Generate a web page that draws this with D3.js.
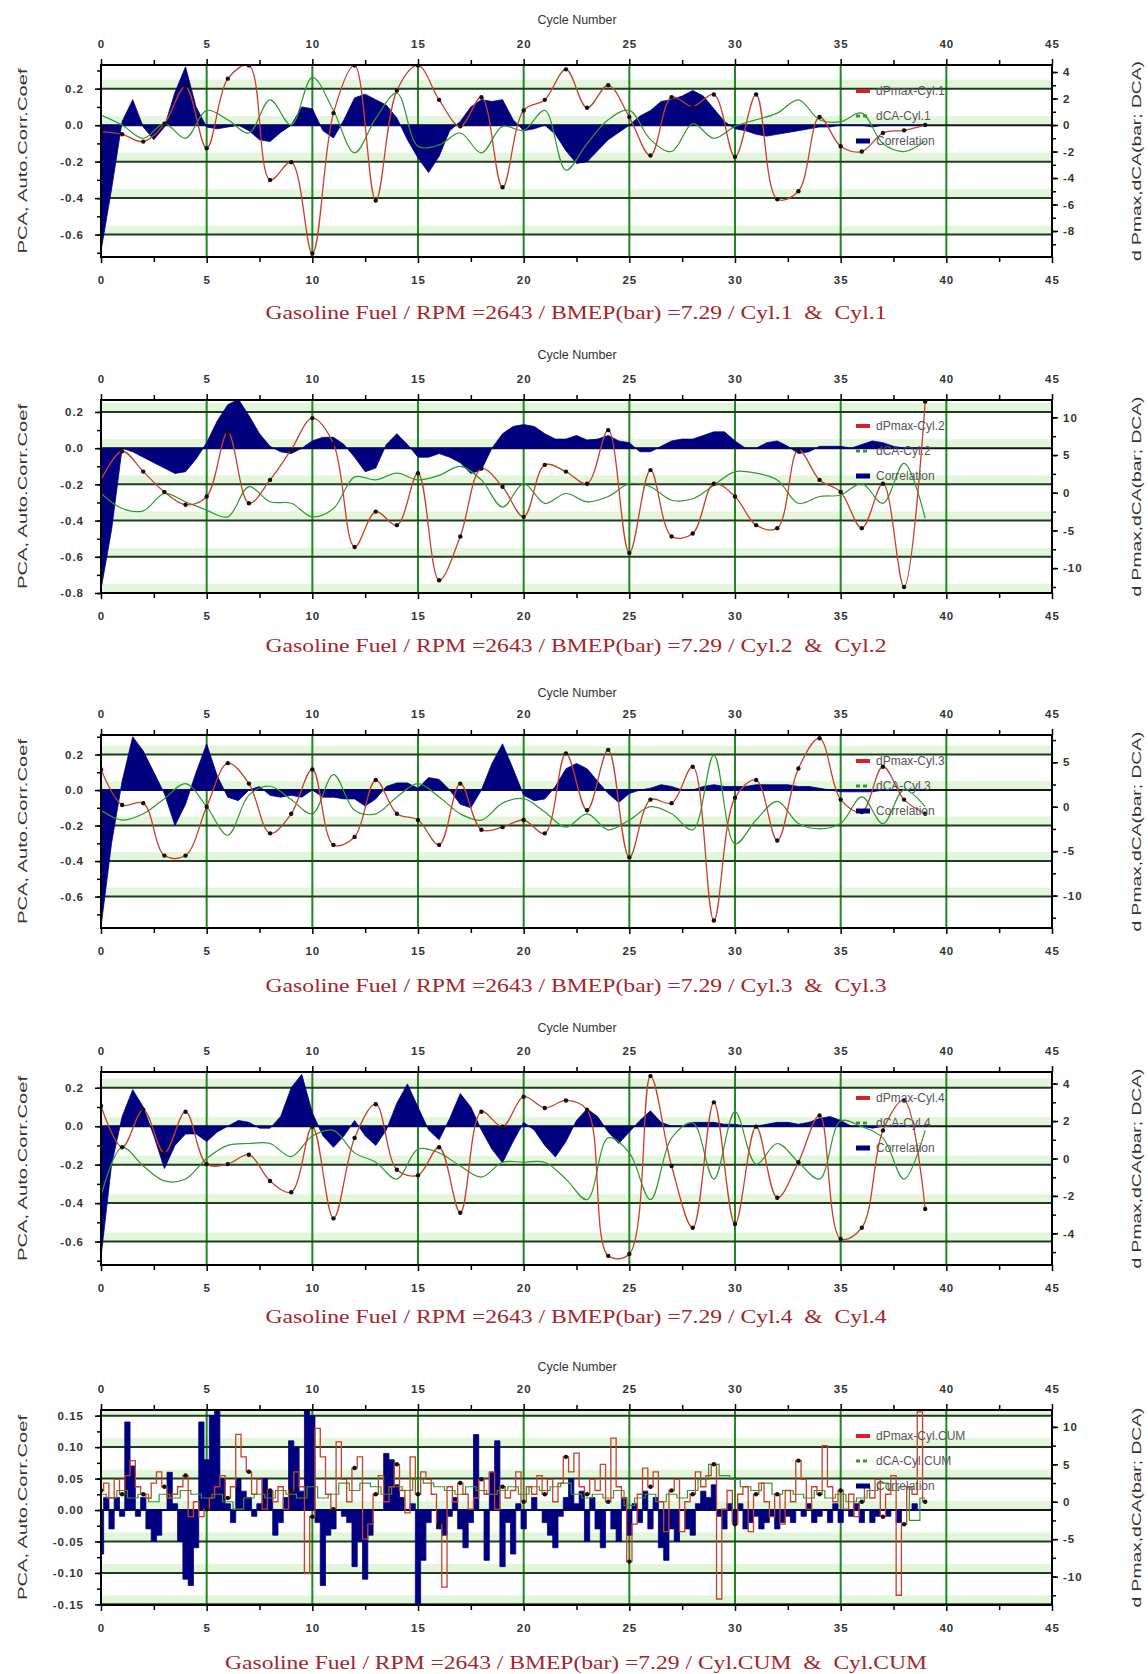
<!DOCTYPE html>
<html><head><meta charset="utf-8">
<script src="https://cdn.jsdelivr.net/npm/d3@7"></script>
<style>body{margin:0;background:#fff;} svg{display:block;}</style>
</head><body><svg id="c" width="1148" height="1674"></svg>
<script>
// ---------- tick labels ----------
const xMajorTicks = [0,5,10,15,20,25,30,35,40,45];
const xMinorTicks = [2.5,7.5,12.5,17.5,22.5,27.5,32.5,37.5,42.5];
const xGridLines = [5,10,15,20,25,30,35,40];

const p1LeftTicks = [0.2,0.0,-0.2,-0.4,-0.6];
const p1RightTicks = [4,2,0,-2,-4,-6,-8];
const p2LeftTicks = [0.2,0.0,-0.2,-0.4,-0.6,-0.8];
const p2RightTicks = [10,5,0,-5,-10];
const p3LeftTicks = [0.2,0.0,-0.2,-0.4,-0.6];
const p3RightTicks = [5,0,-5,-10];
const p4LeftTicks = [0.2,0.0,-0.2,-0.4,-0.6];
const p4RightTicks = [4,2,0,-2,-4];
const p5LeftTicks = [0.15,0.10,0.05,0.00,-0.05,-0.10,-0.15];
const p5RightTicks = [10,5,0,-5,-10];

// ---------- series (cycles 0..39) ----------
const p1Pmax = [-0.5,-0.7,-1.25,0.1,2.9,-1.75,3.5,4.5,-4.15,-2.8,-9.7,0.9,4.5,-5.7,2.6,4.5,1.9,-0.1,2.1,-4.7,1.1,1.9,4.2,1.3,3.0,0.6,-2.3,2.1,1.4,2.3,-2.4,2.3,-5.6,-5.0,0.6,-1.6,-2.0,-0.6,-0.4,0.0];
const p1dCA = [0.75,0.0,-1.0,0.1,-1.0,1.1,0.4,-0.6,1.9,0.0,3.6,1.1,-2.1,0.5,2.4,-1.6,-1.5,-0.6,-2.1,-0.1,-0.4,1.1,-3.4,-1.4,0.4,1.1,-1.1,-2.0,0.1,-1.0,-0.1,0.4,0.9,1.9,0.4,0.25,0.9,-1.4,-2.0,-1.2];
// correlation sampled every half cycle (0, 0.5, ... 39)
const p1Corr = [-0.69,-0.35,0.02,0.14,-0.01,-0.08,-0.01,0.18,0.32,0.10,-0.01,-0.02,-0.01,0.0,-0.03,-0.08,-0.09,-0.04,0.0,0.10,0.09,-0.03,-0.07,0.03,0.15,0.17,0.14,0.11,0.04,-0.08,-0.18,-0.26,-0.17,-0.03,0.02,0.10,0.14,0.13,0.14,0.03,-0.03,-0.02,0.0,-0.05,-0.14,-0.21,-0.20,-0.14,-0.08,-0.04,0.0,0.05,0.08,0.13,0.14,0.16,0.19,0.16,0.09,0.02,-0.02,-0.03,-0.05,-0.06,-0.05,-0.04,-0.03,-0.02,-0.01,-0.01,0.0,0.0,0.0,-0.01,0.0,0.0,0.0,0.0,0.0];

const p2Pmax = [1.7,5.5,2.8,0.1,-1.6,-0.5,8.0,-1.4,1.7,5.7,9.9,6.5,-7.2,-2.5,-4.3,2.6,-11.6,-5.8,3.2,0.8,-3.2,3.7,2.8,1.2,8.3,-8.0,3.0,-5.8,-5.4,1.2,-0.5,-4.3,-4.7,5.7,1.7,0.1,-4.7,1.2,-12.5,12.1];
const p2dCA = [-0.1,-2.1,-2.4,-0.1,-1.2,-2.3,-3.2,0.8,-1.2,-1.4,-3.2,-2.1,2.1,1.7,2.6,1.7,2.3,3.5,1.7,-1.9,1.2,-1.4,-0.1,-1.2,-0.5,1.2,0.8,-1.0,-0.8,1.0,2.8,2.6,1.7,-1.4,-0.5,-0.3,1.2,-1.4,3.9,-3.4];
const p2Corr = [-0.78,-0.45,0.0,-0.02,-0.05,-0.08,-0.11,-0.14,-0.13,-0.06,0.03,0.15,0.24,0.27,0.18,0.08,0.01,-0.02,-0.03,0.0,0.04,0.06,0.06,0.02,-0.05,-0.13,-0.11,0.02,0.08,0.02,-0.05,-0.05,-0.03,-0.05,-0.08,-0.14,-0.12,0.0,0.08,0.12,0.13,0.12,0.08,0.05,0.05,0.07,0.045,0.05,0.07,0.04,0.03,-0.02,-0.02,0.01,0.04,0.05,0.05,0.07,0.09,0.09,0.04,0.0,0.0,0.03,0.04,0.01,-0.03,-0.02,0.01,0.01,0.01,0.0,0.02,0.04,0.03,0.01,0.0,0.0,0.0];

const p3Pmax = [4.2,0.2,0.4,-5.5,-5.5,0.0,4.9,2.6,-3.0,-0.8,4.2,-4.3,-3.4,3.0,-0.8,-1.5,-4.3,2.6,-2.6,-2.3,-1.5,-3.0,6.0,-0.4,6.4,-5.7,0.8,0.4,4.5,-12.8,1.0,3.0,-3.8,4.3,7.7,0.8,-0.6,4.5,0.8,-0.8];
const p3dCA = [-0.4,-1.5,-0.8,0.9,2.6,0.0,-3.2,1.3,2.3,0.8,-0.8,3.6,-0.4,-0.8,1.1,2.6,1.1,-0.8,-1.5,0.4,0.9,-0.6,-2.3,-0.8,-2.6,-1.5,0.0,-0.8,-2.6,5.8,-4.2,-1.5,0.6,-1.9,-2.5,-1.9,1.1,-1.9,1.9,0.0];
const p3Corr = [-0.77,-0.3,0.05,0.30,0.22,0.10,-0.02,-0.20,-0.08,0.10,0.26,0.08,-0.04,-0.06,0.0,0.02,-0.03,-0.04,-0.03,-0.04,0.0,-0.04,-0.04,-0.05,-0.05,-0.09,-0.05,0.02,0.04,0.04,0.01,0.07,0.06,0.0,-0.08,-0.10,0.0,0.15,0.26,0.12,-0.03,-0.06,-0.05,0.02,0.12,0.15,0.12,0.05,-0.02,-0.07,-0.02,0.0,0.01,0.03,0.02,0.0,0.0,0.02,0.03,0.02,0.02,0.02,0.03,0.03,0.03,0.03,0.02,0.02,0.01,0.0,-0.01,-0.01,-0.01,-0.01,0.0,0.0,0.0,0.0,0.0];

const p4Pmax = [2.8,0.6,2.6,0.3,2.5,-0.3,-0.3,0.2,-1.2,-1.8,1.7,-3.2,1.1,2.9,-0.6,-0.9,0.6,-2.9,2.5,1.7,3.3,2.7,3.1,2.6,-5.2,-5.1,4.4,-0.4,-3.7,3.0,-3.5,1.7,-2.1,-0.2,2.3,-4.3,-3.7,1.5,3.1,-2.7];
const p4dCA = [-2.0,0.6,-0.4,-1.2,-1.1,0.0,0.7,0.8,0.8,0.1,1.2,1.5,0.3,-0.2,-1.1,0.5,0.3,-0.4,-1.0,-0.2,-0.2,-0.2,-1.1,-2.2,1.1,0.3,-2.2,1.1,1.9,-1.1,2.5,-0.3,0.8,-0.2,-1.1,2.0,1.7,1.1,-1.1,1.5];
const p4Corr = [-0.68,-0.2,0.05,0.19,0.10,-0.05,-0.22,-0.10,-0.04,-0.04,-0.08,-0.03,0.0,0.03,0.02,-0.01,-0.01,0.05,0.20,0.27,0.07,-0.05,-0.11,-0.05,0.03,-0.05,-0.10,-0.02,0.12,0.22,0.10,-0.02,-0.07,0.04,0.17,0.10,-0.02,-0.12,-0.19,-0.08,0.02,-0.02,-0.10,-0.16,-0.08,0.03,0.09,0.05,-0.03,-0.09,-0.03,0.03,0.08,0.02,0.0,0.0,0.02,0.02,0.02,0.01,0.01,0.0,0.0,0.01,0.02,0.02,0.01,0.02,0.04,0.05,0.03,0.0,0.0,-0.01,0.0,0.0,0.0,0.0,0.0];

// cumulative panel: quarter-cycle samples (0, 0.25, ... 39)
const p5Pmax = [1.5,2.5,0.5,3.0, 1.0,3.5,5.5,2.0, 1.0,0.5,2.5,4.0, 2.0,0.5,1.0,2.0, 3.5,-2.0,0.0,-2.0, -1.0,0.5,2.0,3.5, 0.5,2.0,9.0,6.0, 4.0,1.0,3.0,-1.0, 1.5,0.0,2.0,-1.0, 1.5,4.0,2.0,-9.6, -2.0,9.8,6.0,1.0, -1.0,8.0,3.0,0.0, 4.5,6.0,-5.0,-3.0, 1.0,3.5,0.0,2.0, 5.0,1.5,-1.5,6.0, 1.0,4.0,3.0,1.0, -3.0,-11.4,2.0,0.0, 2.5,1.0,-1.0,0.5, 3.0,1.0,4.0,-1.0, 2.0,0.5,1.5,4.0, 0.0,2.0,1.0,3.5, 1.0,3.0,0.0,2.5, 6.0,4.0,6.5,2.0, 1.0,3.0,1.5,5.0, 0.0,8.5,2.0,0.5, -8.0,-3.0,1.0,4.5, 2.0,4.0,0.0,-4.0, 1.5,3.0,-4.0,0.0, 1.0,4.0,2.0,3.5, 5.0,-13.0,-1.0,1.5, -3.0,1.0,2.0,-4.0, 1.0,2.5,0.0,-2.0, 1.0,-3.0,1.5,0.0, 5.5,3.0,-1.0,2.0, 1.0,7.5,2.0,0.0, 1.5,-1.0,1.0,-2.0, 0.0,2.0,0.5,3.0, -2.0,1.0,3.5,-12.5, -3.0,2.0,1.0,12.0, 0.0];
const p5Corr = [-0.07,0.02,-0.03,0.02, -0.01,0.14,0.07,-0.01, 0.02,-0.03,-0.05,-0.04, 0.0,0.06,0.01,-0.05, -0.11,-0.12,-0.06,0.14, 0.08,0.15,0.16,0.05, 0.01,-0.02,0.05,0.03, 0.02,-0.01,0.01,0.05, 0.03,-0.04,-0.02,0.02, 0.11,0.10,0.03,0.16, 0.15,-0.02,-0.12,-0.04, -0.03,0.0,-0.01,-0.02, -0.09,-0.05,-0.11,-0.04, 0.0,0.0,0.09,0.08, 0.04,0.02,0.0,0.01, -0.15,-0.08,-0.02,0.0, -0.03,-0.04,-0.01,0.02, -0.03,-0.06,-0.02,0.12, 0.0,-0.08,0.06,0.11, -0.09,-0.02,-0.07,0.01, -0.03,0.0,0.02,0.0, -0.02,-0.04,-0.06,-0.01, 0.02,0.05,0.01,0.03, -0.05,0.02,-0.03,-0.06, 0.0,-0.03,-0.05,0.02, -0.04,0.01,-0.02,0.03, -0.03,0.02,-0.06,-0.08, -0.03,-0.05,0.0,-0.03, -0.04,0.01,0.03,0.02, 0.04,-0.01,-0.03,0.01, -0.02,0.01,-0.03,-0.02, -0.01,-0.03,-0.02,-0.01, -0.03,-0.02,-0.01,-0.02, 0.0,-0.01,0.01,-0.02, -0.01,0.0,-0.02,0.01, -0.02,0.0,-0.01,0.01, -0.02,0.0,-0.02,-0.01, 0.0,-0.01,0.0,-0.02, 0.0,0.0,0.01,0.0, 0.0];
// half-cycle samples
const p5dCA = [1.0,0.5,1.5,0.5,1.0,0.0,1.0,0.5,1.5,1.0,0.5,1.0,0.0,-1.0,0.5,1.0,0.5,1.5,1.0,0.5,2.0,0.5,1.0,2.5,1.5,2.5,2.0,1.0,2.0,1.5,3.0,2.5,2.0,1.5,1.0,2.0,1.5,1.0,1.5,2.0,1.0,2.0,1.5,2.0,2.5,1.0,0.5,1.0,0.5,1.5,-0.5,0.5,1.0,0.0,1.0,0.5,1.5,3.0,5.0,3.5,3.0,2.0,1.5,2.5,1.0,1.5,1.0,0.5,1.5,0.5,1.0,0.0,0.5,1.5,2.5,1.5,2.0,-2.5,0.5];

const subtitles = [
  "Gasoline Fuel / RPM =2643 / BMEP(bar) =7.29 / Cyl.1  &  Cyl.1",
  "Gasoline Fuel / RPM =2643 / BMEP(bar) =7.29 / Cyl.2  &  Cyl.2",
  "Gasoline Fuel / RPM =2643 / BMEP(bar) =7.29 / Cyl.3  &  Cyl.3",
  "Gasoline Fuel / RPM =2643 / BMEP(bar) =7.29 / Cyl.4  &  Cyl.4",
  "Gasoline Fuel / RPM =2643 / BMEP(bar) =7.29 / Cyl.CUM  &  Cyl.CUM"
];
const legendLabels = [
  ["dPmax-Cyl.1","dCA-Cyl.1","Correlation"],
  ["dPmax-Cyl.2","dCA-Cyl.2","Correlation"],
  ["dPmax-Cyl.3","dCA-Cyl.3","Correlation"],
  ["dPmax-Cyl.4","dCA-Cyl.4","Correlation"],
  ["dPmax-Cyl.CUM","dCA-Cyl.CUM","Correlation"]
];
const xTitle = "Cycle Number";
const leftTitle = "PCA, Auto.Corr.Coef";
const rightTitle = "d Pmax,dCA(bar; DCA)";

// ---------- layout ----------
const panels = [
  {top:65,  bottom:257,  lDom:[-0.723,0.33], rDom:[-9.96,4.53], lT:p1LeftTicks, rT:p1RightTicks, lMinor:0.1, rMinor:1, fmt:".1f", pmax:p1Pmax, dca:p1dCA, corr:p1Corr, lineStep:1, dcaStep:1, corrStep:0.5, cum:false, titleY:20,  subY:312, subW:621},
  {top:400, bottom:593,  lDom:[-0.8,0.266],  rDom:[-13.3,12.3], lT:p2LeftTicks, rT:p2RightTicks, lMinor:0.1, rMinor:2.5, fmt:".1f", pmax:p2Pmax, dca:p2dCA, corr:p2Corr, lineStep:1, dcaStep:1, corrStep:0.5, cum:false, titleY:355, subY:645, subW:621},
  {top:735, bottom:928,  lDom:[-0.777,0.31], rDom:[-13.65,8.07], lT:p3LeftTicks, rT:p3RightTicks, lMinor:0.1, rMinor:2.5, fmt:".1f", pmax:p3Pmax, dca:p3dCA, corr:p3Corr, lineStep:1, dcaStep:1, corrStep:0.5, cum:false, titleY:693, subY:985, subW:621},
  {top:1072,bottom:1265, lDom:[-0.722,0.282],rDom:[-5.69,4.62], lT:p4LeftTicks, rT:p4RightTicks, lMinor:0.1, rMinor:1, fmt:".1f", pmax:p4Pmax, dca:p4dCA, corr:p4Corr, lineStep:1, dcaStep:1, corrStep:0.5, cum:false, titleY:1028, subY:1316, subW:621},
  {top:1410,bottom:1605, lDom:[-0.151,0.159],rDom:[-13.8,12.26], lT:p5LeftTicks, rT:p5RightTicks, lMinor:0.025, rMinor:2.5, fmt:".2f", pmax:p5Pmax, dca:p5dCA, corr:p5Corr, lineStep:0.25, dcaStep:0.5, corrStep:0.25, cum:true, titleY:1367, subY:1662, subW:702}
];

const X0 = 101, X1 = 1052;
const x = d3.scaleLinear().domain([0,45]).range([X0,X1]);
const svg = d3.select('#c');
const defs = svg.append('defs');
const fmtMinus = f => v => d3.format(f)(v).replace('\u2212','-');

panels.forEach((p,pi)=>{
  const yL = d3.scaleLinear().domain(p.lDom).range([p.bottom,p.top]);
  const yR = d3.scaleLinear().domain(p.rDom).range([p.bottom,p.top]);
  const g = svg.append('g');
  const clipId = 'clip'+pi;
  defs.append('clipPath').attr('id',clipId).append('rect')
    .attr('x',X0).attr('y',p.top).attr('width',X1-X0).attr('height',p.bottom-p.top);

  // light green bands above horizontal grid lines
  g.append('g').selectAll('rect').data(p.lT).join('rect')
    .attr('x',X0).attr('width',X1-X0)
    .attr('y',d=>Math.max(p.top,yL(d)-9))
    .attr('height',d=>Math.max(0,yL(d)-Math.max(p.top,yL(d)-9)))
    .attr('fill','#e3f6dc');
  // vertical grid
  g.append('g').selectAll('line').data(xGridLines).join('line')
    .attr('x1',d=>x(d)).attr('x2',d=>x(d)).attr('y1',p.top).attr('y2',p.bottom)
    .attr('stroke','#1f8a1f').attr('stroke-width',2);
  // horizontal grid
  g.append('g').selectAll('line').data(p.lT).join('line')
    .attr('x1',X0).attr('x2',X1).attr('y1',d=>yL(d)).attr('y2',d=>yL(d))
    .attr('stroke',d=>d===0?'#101810':'#1e3d1e').attr('stroke-width',2);

  const plot = g.append('g').attr('clip-path',`url(#${clipId})`);
  const corrPts = p.corr.map((v,i)=>[i*p.corrStep,v]);
  plot.append('path').datum(corrPts)
    .attr('d', d3.area().x(d=>x(d[0])).y0(yL(0)).y1(d=>yL(d[1]))
      .curve(p.cum?d3.curveStep:d3.curveLinear))
    .attr('fill','#00007f').attr('stroke','#00007f').attr('stroke-width',0.8);

  const dcaPts = p.dca.map((v,i)=>[i*p.dcaStep,v]);
  plot.append('path').datum(dcaPts)
    .attr('d', d3.line().x(d=>x(d[0])).y(d=>yR(d[1])).curve(p.cum?d3.curveStep:d3.curveCatmullRom))
    .attr('fill','none').attr('stroke','#2f9a2f').attr('stroke-width',1.2);

  const pmaxPts = p.pmax.map((v,i)=>[i*p.lineStep,v]);
  plot.append('path').datum(pmaxPts)
    .attr('d', d3.line().x(d=>x(d[0])).y(d=>yR(d[1])).curve(p.cum?d3.curveStep:d3.curveCatmullRom))
    .attr('fill','none').attr('stroke','#c8402c').attr('stroke-width',1.3);
  plot.append('g').selectAll('circle')
    .data(pmaxPts.filter(d=>Number.isInteger(d[0])))
    .join('circle').attr('cx',d=>x(d[0])).attr('cy',d=>yR(d[1])).attr('r',2.2).attr('fill','#111');

  // frame
  g.append('rect').attr('x',X0).attr('y',p.top).attr('width',X1-X0).attr('height',p.bottom-p.top)
    .attr('fill','none').attr('stroke','#000').attr('stroke-width',2);

  const styleAxis = (sel)=>{
    sel.select('.domain').remove();
    sel.selectAll('line').attr('stroke','#000').attr('stroke-width',1.5);
    sel.selectAll('text').attr('font-family','Liberation Sans, Arial, sans-serif')
      .attr('font-size',11.5).attr('font-weight','bold').attr('fill','#333').style('letter-spacing','1px');
  };
  // top / bottom axes
  g.append('g').attr('transform',`translate(0,${p.top})`)
    .call(d3.axisTop(x).tickValues(xMajorTicks).tickSize(6).tickPadding(11).tickFormat(d3.format('d'))).call(styleAxis);
  g.append('g').attr('transform',`translate(0,${p.top})`)
    .call(d3.axisTop(x).tickValues(xMinorTicks).tickSize(5).tickFormat('')).call(styleAxis);
  g.append('g').attr('transform',`translate(0,${p.bottom})`)
    .call(d3.axisBottom(x).tickValues(xMajorTicks).tickSize(6).tickPadding(13).tickFormat(d3.format('d'))).call(styleAxis);
  g.append('g').attr('transform',`translate(0,${p.bottom})`)
    .call(d3.axisBottom(x).tickValues(xMinorTicks).tickSize(5).tickFormat('')).call(styleAxis);

  // left axis
  g.append('g').attr('transform',`translate(${X0},0)`)
    .call(d3.axisLeft(yL).tickValues(p.lT).tickSize(6).tickPadding(11).tickFormat(fmtMinus(p.fmt))).call(styleAxis);
  const lMin = d3.range(Math.ceil(p.lDom[0]/p.lMinor)*p.lMinor, p.lDom[1], p.lMinor);
  g.append('g').attr('transform',`translate(${X0},0)`)
    .call(d3.axisLeft(yL).tickValues(lMin).tickSize(4).tickFormat('')).call(styleAxis);
  // right axis
  g.append('g').attr('transform',`translate(${X1},0)`)
    .call(d3.axisRight(yR).tickValues(p.rT).tickSize(6).tickPadding(5).tickFormat(fmtMinus('d'))).call(styleAxis);
  const rMin = d3.range(Math.ceil(p.rDom[0]/p.rMinor)*p.rMinor, p.rDom[1], p.rMinor);
  g.append('g').attr('transform',`translate(${X1},0)`)
    .call(d3.axisRight(yR).tickValues(rMin).tickSize(4).tickFormat('')).call(styleAxis);

  // titles
  g.append('text').attr('x',577).attr('y',p.titleY).attr('dy','0.35em').attr('text-anchor','middle')
    .attr('font-family','Liberation Sans, Arial, sans-serif').attr('font-size',12.5).attr('fill','#333')
    .text(xTitle);
  const mid = (p.top+p.bottom)/2;
  g.append('text').attr('transform',`translate(22,${mid}) rotate(-90)`).attr('dy','0.35em').attr('text-anchor','middle')
    .attr('font-family','Liberation Sans, Arial, sans-serif').attr('font-size',13.5).attr('fill','#333')
    .attr('textLength',185).attr('lengthAdjust','spacingAndGlyphs').text(leftTitle);
  g.append('text').attr('transform',`translate(1136,${mid}) rotate(-90)`).attr('dy','0.35em').attr('text-anchor','middle')
    .attr('font-family','Liberation Sans, Arial, sans-serif').attr('font-size',13.5).attr('fill','#333')
    .attr('textLength',200).attr('lengthAdjust','spacingAndGlyphs').text(rightTitle);
  g.append('text').attr('x',576).attr('y',p.subY).attr('dy','0.35em').attr('text-anchor','middle')
    .attr('font-family','Liberation Serif, Times New Roman, serif').attr('font-size',19).attr('fill','#a3262a')
    .style('white-space','pre').attr('textLength',p.subW).attr('lengthAdjust','spacingAndGlyphs')
    .text(subtitles[pi]);

  // legend
  const lg = g.append('g');
  const rows = [p.top+26, p.top+51, p.top+76];
  lg.append('line').attr('x1',856).attr('x2',870).attr('y1',rows[0]).attr('y2',rows[0]).attr('stroke','#d8202a').attr('stroke-width',4);
  lg.append('line').attr('x1',856).attr('x2',870).attr('y1',rows[1]).attr('y2',rows[1]).attr('stroke','#2f9a2f').attr('stroke-width',3).attr('stroke-dasharray','4,3');
  lg.append('line').attr('x1',856).attr('x2',870).attr('y1',rows[2]).attr('y2',rows[2]).attr('stroke','#00007f').attr('stroke-width',5);
  lg.selectAll('text').data(legendLabels[pi]).join('text')
    .attr('x',876).attr('y',(d,i)=>rows[i]).attr('dy','0.35em')
    .attr('font-family','Liberation Sans, Arial, sans-serif').attr('font-size',12).attr('fill','#555')
    .text(d=>d);
});
</script>
</body></html>
